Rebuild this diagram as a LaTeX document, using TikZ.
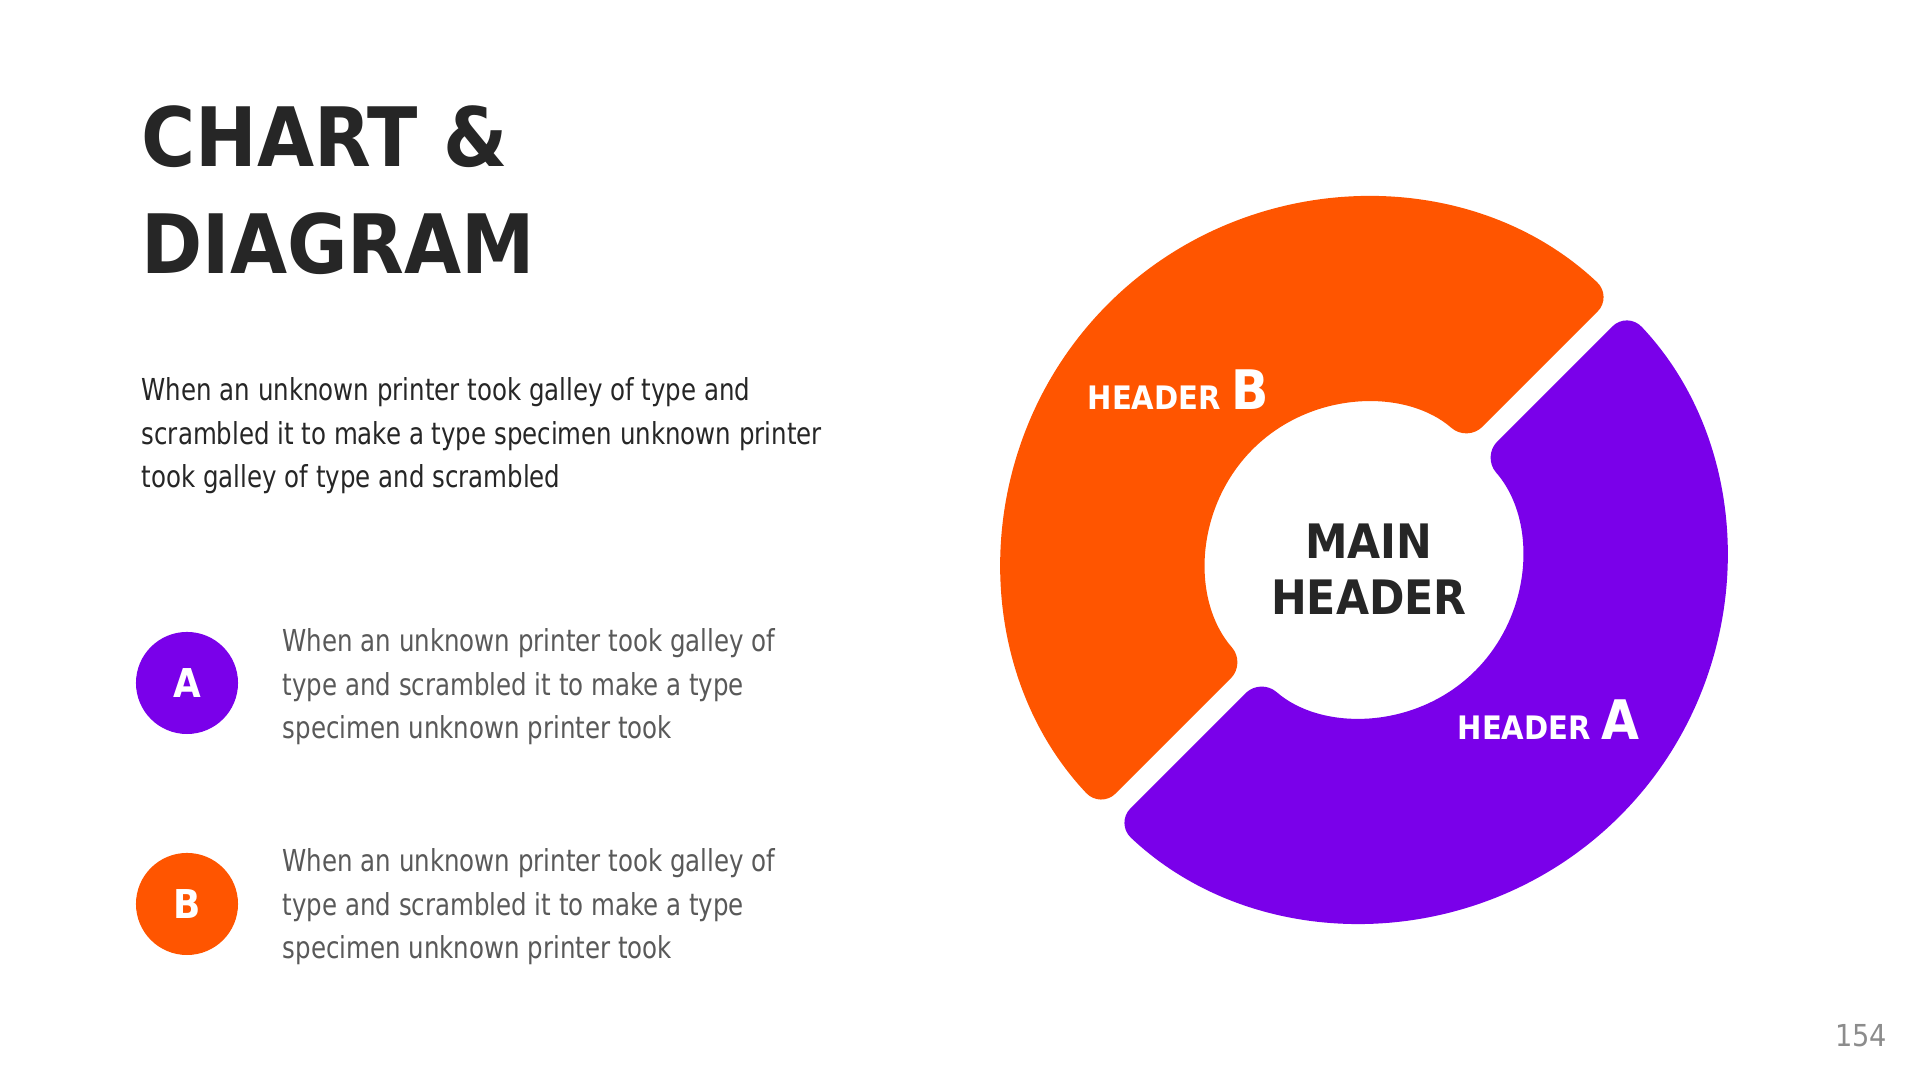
\documentclass[tikz,border=0pt]{standalone}
\usepackage{fontspec}
\setmainfont{DejaVu Sans Condensed}
\newfontfamily\narrowfont[FakeStretch=0.9]{DejaVu Sans Condensed}
\usetikzlibrary{positioning}
\definecolor{segorange}{HTML}{FF5500}
\definecolor{segpurple}{HTML}{7A00EA}
\definecolor{titlegray}{HTML}{262626}
\definecolor{bodygray}{HTML}{595959}
\definecolor{pagegray}{HTML}{8C8C8C}

\begin{document}
\begin{tikzpicture}[x=0.01cm, y=0.01cm,
	titletext/.style={anchor=north west, inner sep=0pt, align=left, text=titlegray, font=\fontsize{23.3}{30.4}\selectfont\bfseries},
	bodytext/.style={anchor=north west, inner sep=0pt, align=left, text=#1, font=\narrowfont\fontsize{8.6}{12.4}\selectfont},
	roundnode/.style={circle, fill=#1, minimum size=1.02cm, inner sep=0pt, text=white, font=\fontsize{11.3}{13}\selectfont\bfseries},
	seglabel/.style={anchor=base west, inner sep=0pt, text=white, font=\fontsize{9.2}{11}\selectfont\bfseries},
	]
	\useasboundingbox (0,0) rectangle (1920,1080);
	\fill[white] (0,0) rectangle (1920,1080);
	
	%Ring
	\coordinate (ctr) at (1364,520);
	\fill[segorange, rounded corners=6pt] ([shift={(46.66:362)}]ctr) arc[start angle=46.66, end angle=223.34, radius=362]
		-- ([shift={(221.17:157)}]ctr) arc[start angle=221.17, end angle=48.83, radius=157] -- cycle;
	\fill[segpurple, rounded corners=6pt] ([shift={(226.66:362)}]ctr) arc[start angle=226.66, end angle=403.34, radius=362]
		-- ([shift={(401.17:157)}]ctr) arc[start angle=401.17, end angle=228.83, radius=157] -- cycle;
	
	%Nodes
	\node[titletext] (title) at (141,975) {CHART \&\\DIAGRAM};
	\node[bodytext=titlegray] (intro) at (141,703) {When an unknown printer took galley of type and\\scrambled it to make a type specimen unknown printer\\took galley of type and scrambled};
	
	\node[roundnode=segpurple] (ca) at (187,397) {A};
	\node[roundnode=segorange] (cb) at (187,176) {B};
	\node[bodytext=bodygray] (ta) at (282,452) {When an unknown printer took galley of\\type and scrambled it to make a type\\specimen unknown printer took};
	\node[bodytext=bodygray] (tb) at (282,232) {When an unknown printer took galley of\\type and scrambled it to make a type\\specimen unknown printer took};
	
	\node[align=center, inner sep=0pt, text=titlegray, font=\fontsize{13.5}{16}\selectfont\bfseries] (main) at (1369,511) {MAIN\\HEADER};
	\node[seglabel] (hb) at (1087,670) {HEADER {\fontsize{15.5}{17}\selectfont B}};
	\node[seglabel] (ha) at (1457,340) {HEADER {\fontsize{15.5}{17}\selectfont A}};
	
	\node[anchor=base, inner sep=0pt, text=pagegray, font=\fontsize{8.6}{10}\selectfont] (page) at (1861,33) {154};
\end{tikzpicture}
\end{document}
